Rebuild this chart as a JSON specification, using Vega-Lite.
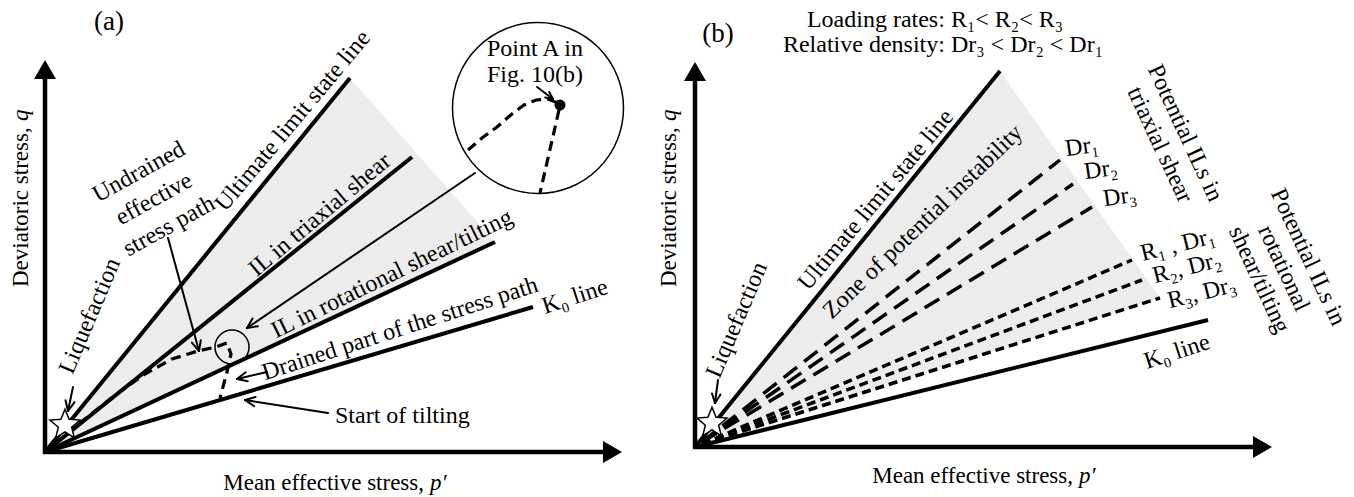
{
  "$schema": "https://vega.github.io/schema/vega-lite/v6.json",
  "width": 1354,
  "height": 497,
  "padding": 0,
  "autosize": {"type": "none"},
  "background": "white",
  "config": {
    "view": {"stroke": null}
  },
  "datasets": {
    "shade": [
      {"panel": "a", "x": 45, "y": 452, "y2": 452},
      {"panel": "a", "x": 350, "y": 78, "y2": 309.7},
      {"panel": "a", "x": 495, "y": 242, "y2": 242},
      {"panel": "b", "x": 695, "y": 447, "y2": 447},
      {"panel": "b", "x": 1000, "y": 71, "y2": 349.4},
      {"panel": "b", "x": 1160, "y": 298, "y2": 298}
    ],
    "axes": [
      {"x": 45, "y": 454, "x2": 45, "y2": 78},
      {"x": 43, "y": 452, "x2": 606, "y2": 452},
      {"x": 695, "y": 449, "x2": 695, "y2": 80},
      {"x": 693, "y": 447, "x2": 1256, "y2": 447}
    ],
    "headsUp": [{"x": 45, "y": 69.5}, {"x": 695, "y": 71.5}],
    "headsRight": [{"x": 612.5, "y": 452}, {"x": 1262.5, "y": 447}],
    "thick": [
      {"name": "ULS a", "x": 45, "y": 452, "x2": 350, "y2": 78},
      {"name": "IL triaxial a", "x": 45, "y": 452, "x2": 412, "y2": 157},
      {"name": "IL rotational a", "x": 45, "y": 452, "x2": 495, "y2": 242},
      {"name": "K0 a", "x": 45, "y": 452, "x2": 533, "y2": 307},
      {"name": "ULS b", "x": 695, "y": 447, "x2": 1000, "y2": 71},
      {"name": "K0 b", "x": 695, "y": 447, "x2": 1208, "y2": 320}
    ],
    "arrows": [
      {"x": 168, "y": 238, "x2": 199, "y2": 351},
      {"x": 199, "y": 351, "x2": 200.8, "y2": 340.2},
      {"x": 199, "y": 351, "x2": 191.9, "y2": 342.6},
      {"x": 475, "y": 173, "x2": 247, "y2": 328},
      {"x": 247, "y": 328, "x2": 257.9, "y2": 326.2},
      {"x": 247, "y": 328, "x2": 252.6, "y2": 318.6},
      {"x": 267, "y": 372, "x2": 237, "y2": 379},
      {"x": 237, "y": 379, "x2": 247.8, "y2": 381.3},
      {"x": 237, "y": 379, "x2": 245.7, "y2": 372.2},
      {"x": 328, "y": 413, "x2": 245, "y2": 400},
      {"x": 245, "y": 400, "x2": 254.1, "y2": 406.1},
      {"x": 245, "y": 400, "x2": 255.6, "y2": 397.0},
      {"x": 73, "y": 387, "x2": 68, "y2": 411},
      {"x": 68, "y": 411, "x2": 74.6, "y2": 402.2},
      {"x": 68, "y": 411, "x2": 65.5, "y2": 400.3},
      {"x": 537, "y": 87, "x2": 553, "y2": 99},
      {"x": 553, "y": 99, "x2": 549.2, "y2": 91.9},
      {"x": 553, "y": 99, "x2": 545.2, "y2": 97.4},
      {"x": 718, "y": 380, "x2": 715, "y2": 403},
      {"x": 715, "y": 403, "x2": 720.4, "y2": 394.6},
      {"x": 715, "y": 403, "x2": 712, "y2": 393.5}
    ],
    "drLines": [
      {"name": "Dr1", "x": 702, "y": 442, "x2": 1060, "y2": 160},
      {"name": "Dr2", "x": 702, "y": 442, "x2": 1073, "y2": 184},
      {"name": "Dr3", "x": 702, "y": 442, "x2": 1092, "y2": 207}
    ],
    "rLines": [
      {"name": "R1", "x": 702, "y": 444, "x2": 1132, "y2": 260},
      {"name": "R2", "x": 702, "y": 444, "x2": 1142, "y2": 280},
      {"name": "R3", "x": 702, "y": 444, "x2": 1160, "y2": 298}
    ],
    "paths": [
      {"path": "undrained", "i": 0, "x": 55, "y": 444},
      {"path": "undrained", "i": 1, "x": 85, "y": 419},
      {"path": "undrained", "i": 2, "x": 115, "y": 395},
      {"path": "undrained", "i": 3, "x": 145, "y": 374},
      {"path": "undrained", "i": 4, "x": 172, "y": 359},
      {"path": "undrained", "i": 5, "x": 198, "y": 351},
      {"path": "undrained", "i": 6, "x": 216, "y": 347},
      {"path": "undrained", "i": 7, "x": 227, "y": 343},
      {"path": "undrained", "i": 8, "x": 231, "y": 354},
      {"path": "undrained", "i": 9, "x": 227, "y": 372},
      {"path": "undrained", "i": 10, "x": 220, "y": 398},
      {"path": "inset", "i": 0, "x": 468, "y": 150},
      {"path": "inset", "i": 1, "x": 482, "y": 138},
      {"path": "inset", "i": 2, "x": 497, "y": 127},
      {"path": "inset", "i": 3, "x": 512, "y": 114},
      {"path": "inset", "i": 4, "x": 524, "y": 105},
      {"path": "inset", "i": 5, "x": 536, "y": 100},
      {"path": "inset", "i": 6, "x": 548, "y": 99},
      {"path": "inset", "i": 7, "x": 558, "y": 103},
      {"path": "inset drained", "i": 0, "x": 559, "y": 110},
      {"path": "inset drained", "i": 1, "x": 540, "y": 193}
    ]
  },
  "encoding": {
    "x": {"field": "x", "type": "quantitative", "axis": null, "scale": {"domain": [0, 1354], "nice": false, "zero": false}},
    "y": {"field": "y", "type": "quantitative", "axis": null, "scale": {"domain": [0, 497], "nice": false, "zero": false, "reverse": true}}
  },
  "layer": [
    {
      "data": {"name": "shade"},
      "transform": [{"filter": "datum.panel == 'a'"}],
      "mark": {"type": "area", "color": "#ececec", "opacity": 1},
      "encoding": {"y2": {"field": "y2"}}
    },
    {
      "data": {"name": "shade"},
      "transform": [{"filter": "datum.panel == 'b'"}],
      "mark": {"type": "area", "color": "#ececec", "opacity": 1},
      "encoding": {"y2": {"field": "y2"}}
    },
    {
      "data": {"name": "axes"},
      "mark": {"type": "rule", "color": "black", "strokeWidth": 4.5},
      "encoding": {"x2": {"field": "x2"}, "y2": {"field": "y2"}}
    },
    {
      "data": {"name": "headsUp"},
      "mark": {"type": "point", "shape": "triangle-up", "filled": true, "color": "black", "opacity": 1, "size": 484}
    },
    {
      "data": {"name": "headsRight"},
      "mark": {"type": "point", "shape": "triangle-right", "filled": true, "color": "black", "opacity": 1, "size": 484}
    },
    {
      "data": {"name": "thick"},
      "mark": {"type": "rule", "color": "black", "strokeWidth": 4, "strokeCap": "butt"},
      "encoding": {"x2": {"field": "x2"}, "y2": {"field": "y2"}}
    },
    {
      "data": {"name": "arrows"},
      "mark": {"type": "rule", "color": "black", "strokeWidth": 2, "strokeCap": "round"},
      "encoding": {"x2": {"field": "x2"}, "y2": {"field": "y2"}}
    },
    {
      "data": {"name": "drLines"},
      "mark": {"type": "rule", "color": "black", "strokeWidth": 3.5, "strokeDash": [17, 9], "strokeCap": "butt"},
      "encoding": {"x2": {"field": "x2"}, "y2": {"field": "y2"}}
    },
    {
      "data": {"name": "rLines"},
      "mark": {"type": "rule", "color": "black", "strokeWidth": 3.5, "strokeDash": [9, 5], "strokeCap": "butt"},
      "encoding": {"x2": {"field": "x2"}, "y2": {"field": "y2"}}
    },
    {
      "data": {"name": "paths"},
      "transform": [{"filter": "datum.path == 'undrained'"}],
      "mark": {"type": "line", "color": "black", "strokeWidth": 3.2, "strokeDash": [10, 6], "strokeCap": "butt"},
      "encoding": {"order": {"field": "i", "type": "quantitative"}}
    },
    {
      "data": {"name": "paths"},
      "transform": [{"filter": "datum.path == 'inset'"}],
      "mark": {"type": "line", "color": "black", "strokeWidth": 3.2, "strokeDash": [10, 6], "strokeCap": "butt"},
      "encoding": {"order": {"field": "i", "type": "quantitative"}}
    },
    {
      "data": {"name": "paths"},
      "transform": [{"filter": "datum.path == 'inset drained'"}],
      "mark": {"type": "line", "color": "black", "strokeWidth": 3.2, "strokeDash": [10, 6], "strokeCap": "butt"},
      "encoding": {"order": {"field": "i", "type": "quantitative"}}
    },
    {
      "data": {"values": [{"x": 538, "y": 108}]},
      "mark": {"type": "point", "shape": "circle", "filled": false, "color": "black", "opacity": 1, "strokeWidth": 1.5, "size": 29241}
    },
    {
      "data": {"values": [{"x": 232, "y": 347}]},
      "mark": {"type": "point", "shape": "circle", "filled": false, "color": "black", "opacity": 1, "strokeWidth": 1.5, "size": 1156}
    },
    {
      "data": {"values": [{"x": 560, "y": 105}]},
      "mark": {"type": "point", "shape": "circle", "filled": true, "color": "black", "opacity": 1, "size": 121}
    },
    {
      "data": {"values": [{"x": 65, "y": 425}, {"x": 712, "y": 423}]},
      "mark": {"type": "point", "shape": "M0,-1L0.26,-0.36L0.951,-0.309L0.42,0.137L0.588,0.809L0,0.44L-0.588,0.809L-0.42,0.137L-0.951,-0.309L-0.26,-0.36Z", "filled": true, "fill": "white", "stroke": "black", "strokeWidth": 1.5, "opacity": 1, "size": 1000}
    },
    {
      "data": {"values": [{"x": 109, "y": 22, "t": "(a)"}, {"x": 718, "y": 34, "t": "(b)"}]},
      "mark": {"type": "text", "font": "Liberation Serif", "fill": "black", "fontSize": 27, "align": "center", "baseline": "middle"},
      "encoding": {"text": {"field": "t", "type": "nominal"}}
    },
    {
      "data": {"values": [
        {"x": 535, "y": 56, "t": "Point A in"},
        {"x": 535, "y": 82, "t": "Fig. 10(b)"},
        {"x": 935, "y": 27, "t": "Loading rates: R₁< R₂< R₃"},
        {"x": 943, "y": 52, "t": "Relative density: Dr₃ < Dr₂ < Dr₁"}
      ]},
      "mark": {"type": "text", "font": "Liberation Serif", "fill": "black", "fontSize": 24, "align": "center", "baseline": "alphabetic"},
      "encoding": {"text": {"field": "t", "type": "nominal"}}
    },
    {
      "data": {"values": [{"x": 293, "y": 121, "t": "Ultimate limit state line"}, {"x": 876, "y": 200, "t": "Ultimate limit state line"}]},
      "mark": {"type": "text", "font": "Liberation Serif", "fill": "black", "fontSize": 24, "align": "center", "baseline": "middle", "angle": -50},
      "encoding": {"text": {"field": "t", "type": "nominal"}}
    },
    {
      "data": {"values": [{"x": 320, "y": 215, "t": "IL in triaxial shear"}]},
      "mark": {"type": "text", "font": "Liberation Serif", "fill": "black", "fontSize": 24, "align": "center", "baseline": "middle", "angle": -40},
      "encoding": {"text": {"field": "t", "type": "nominal"}}
    },
    {
      "data": {"values": [{"x": 392, "y": 274, "t": "IL in rotational shear/tilting"}]},
      "mark": {"type": "text", "font": "Liberation Serif", "fill": "black", "fontSize": 24, "align": "center", "baseline": "middle", "angle": -26},
      "encoding": {"text": {"field": "t", "type": "nominal"}}
    },
    {
      "data": {"values": [
        {"x": 400, "y": 329, "t": "Drained part of the stress path"},
        {"x": 575, "y": 297, "t": "K₀ line"},
        {"x": 1177, "y": 352, "t": "K₀ line"}
      ]},
      "mark": {"type": "text", "font": "Liberation Serif", "fill": "black", "fontSize": 24, "align": "center", "baseline": "middle", "angle": -18},
      "encoding": {"text": {"field": "t", "type": "nominal"}}
    },
    {
      "data": {"values": [{"x": 139, "y": 172, "t": "Undrained\neffective\nstress path"}]},
      "mark": {"type": "text", "font": "Liberation Serif", "fill": "black", "fontSize": 24, "align": "center", "baseline": "middle", "angle": -29, "lineBreak": "\n", "lineHeight": 31},
      "encoding": {"text": {"field": "t", "type": "nominal"}}
    },
    {
      "data": {"values": [{"x": 90, "y": 316, "t": "Liquefaction"}, {"x": 737, "y": 320, "t": "Liquefaction"}]},
      "mark": {"type": "text", "font": "Liberation Serif", "fill": "black", "fontSize": 24, "align": "center", "baseline": "middle", "angle": -67},
      "encoding": {"text": {"field": "t", "type": "nominal"}}
    },
    {
      "data": {"values": [{"x": 335, "y": 423, "t": "Start of tilting"}]},
      "mark": {"type": "text", "font": "Liberation Serif", "fill": "black", "fontSize": 24, "align": "left", "baseline": "alphabetic"},
      "encoding": {"text": {"field": "t", "type": "nominal"}}
    },
    {
      "data": {"values": [{"x": 424, "y": 490, "t": "Mean effective stress,"}, {"x": 1073, "y": 483, "t": "Mean effective stress,"}]},
      "mark": {"type": "text", "font": "Liberation Serif", "fill": "black", "fontSize": 23, "align": "right", "baseline": "alphabetic"},
      "encoding": {"text": {"field": "t", "type": "nominal"}}
    },
    {
      "data": {"values": [{"x": 430, "y": 490, "t": "p′"}, {"x": 1079, "y": 483, "t": "p′"}]},
      "mark": {"type": "text", "font": "Liberation Serif", "fill": "black", "fontSize": 23, "fontStyle": "italic", "align": "left", "baseline": "alphabetic"},
      "encoding": {"text": {"field": "t", "type": "nominal"}}
    },
    {
      "data": {"values": [{"x": 21, "y": 287, "t": "Deviatoric stress,"}, {"x": 669, "y": 287, "t": "Deviatoric stress,"}]},
      "mark": {"type": "text", "font": "Liberation Serif", "fill": "black", "fontSize": 23, "align": "left", "baseline": "middle", "angle": -90},
      "encoding": {"text": {"field": "t", "type": "nominal"}}
    },
    {
      "data": {"values": [{"x": 21, "y": 121, "t": "q"}, {"x": 669, "y": 121, "t": "q"}]},
      "mark": {"type": "text", "font": "Liberation Serif", "fill": "black", "fontSize": 23, "fontStyle": "italic", "align": "left", "baseline": "middle", "angle": -90},
      "encoding": {"text": {"field": "t", "type": "nominal"}}
    },
    {
      "data": {"values": [{"x": 923, "y": 222, "t": "Zone of potential instability"}]},
      "mark": {"type": "text", "font": "Liberation Serif", "fill": "black", "fontSize": 24, "align": "center", "baseline": "middle", "angle": -44},
      "encoding": {"text": {"field": "t", "type": "nominal"}}
    },
    {
      "data": {"values": [
        {"x": 1082, "y": 147, "t": "Dr₁"},
        {"x": 1101, "y": 170, "t": "Dr₂"},
        {"x": 1120, "y": 197, "t": "Dr₃"}
      ]},
      "mark": {"type": "text", "font": "Liberation Serif", "fill": "black", "fontSize": 24, "align": "center", "baseline": "middle", "angle": -8},
      "encoding": {"text": {"field": "t", "type": "nominal"}}
    },
    {
      "data": {"values": [
        {"x": 1178, "y": 245, "t": "R₁ , Dr₁"},
        {"x": 1187, "y": 268, "t": "R₂, Dr₂"},
        {"x": 1202, "y": 293, "t": "R₃, Dr₃"}
      ]},
      "mark": {"type": "text", "font": "Liberation Serif", "fill": "black", "fontSize": 24, "align": "center", "baseline": "middle", "angle": -14},
      "encoding": {"text": {"field": "t", "type": "nominal"}}
    },
    {
      "data": {"values": [
        {"x": 1185, "y": 133, "t": "Potential ILs in\ntriaxial shear"}
      ]},
      "mark": {"type": "text", "font": "Liberation Serif", "fill": "black", "fontSize": 24, "align": "center", "baseline": "middle", "angle": 65, "lineBreak": "\n", "lineHeight": 28},
      "encoding": {"text": {"field": "t", "type": "nominal"}}
    },
    {
      "data": {"values": [
        {"x": 1308, "y": 257, "t": "Potential ILs in\nrotational\nshear/tilting"}
      ]},
      "mark": {"type": "text", "font": "Liberation Serif", "fill": "black", "fontSize": 24, "align": "center", "baseline": "middle", "angle": 65, "lineBreak": "\n", "lineHeight": 27},
      "encoding": {"text": {"field": "t", "type": "nominal"}}
    }
  ]
}
